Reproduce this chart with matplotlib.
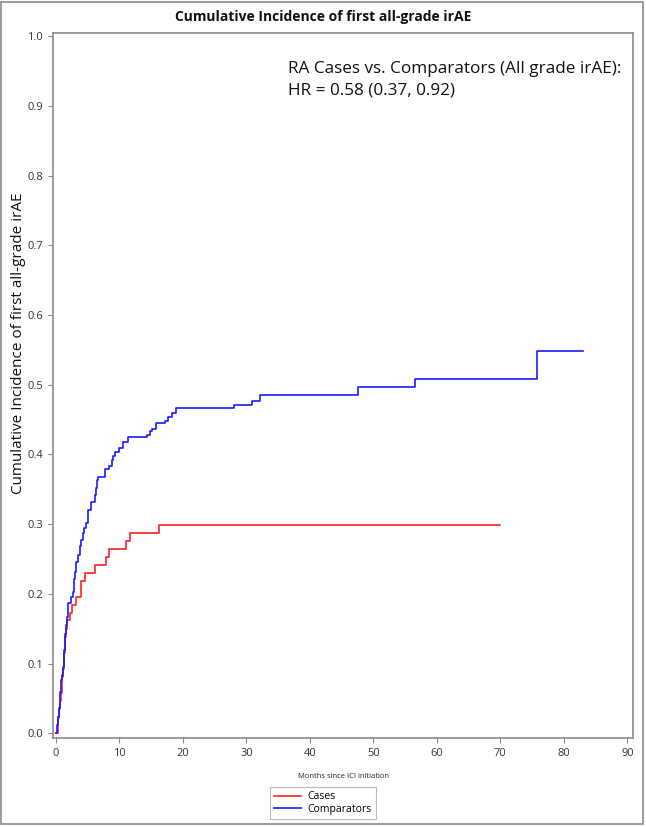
import matplotlib
matplotlib.use("Agg")
import matplotlib.pyplot as plt
from matplotlib.patches import Rectangle

plt.rcParams['font.family'] = ['Open Sans', 'DejaVu Sans']

# Cases (red) - step curve, months since ICI initiation vs cumulative incidence
case_months = [0, 0.3, 0.4, 0.55, 0.7, 0.8, 0.9, 1.0, 1.1, 1.2, 1.3, 1.4, 1.5, 1.6, 1.7,
               2.2, 2.5, 3.1, 4.0, 4.6, 6.1, 7.9, 8.4, 11.0, 11.6, 16.3, 70.0]
case_cif = [0, 0.0115, 0.023, 0.035, 0.046, 0.058, 0.069, 0.081, 0.092, 0.104, 0.115,
            0.127, 0.138, 0.150, 0.162, 0.173, 0.184, 0.196, 0.218, 0.230, 0.241,
            0.253, 0.264, 0.276, 0.287, 0.299, 0.299]

# Comparators (blue)
comp_months = [0, 0.1, 0.2, 0.35, 0.5, 0.6, 0.7, 0.8, 1.0, 1.1, 1.2, 1.3, 1.4, 1.5, 1.6,
               1.75, 1.85, 1.95, 2.3, 2.7, 2.8, 2.9, 3.0, 3.15, 3.5, 3.8, 4.0, 4.2, 4.4,
               4.8, 5.0, 5.1, 5.5, 6.1, 6.3, 6.4, 6.7, 7.7, 8.4, 8.8, 9.0, 9.3, 10.0,
               10.6, 11.4, 14.4, 14.8, 15.2, 15.75, 17.2, 17.7, 18.2, 18.85, 28.1, 30.9,
               32.1, 47.5, 56.6, 75.8, 83.0]
comp_cif = [0, 0.006, 0.012, 0.024, 0.036, 0.048, 0.060, 0.077, 0.084, 0.095, 0.107,
            0.119, 0.131, 0.143, 0.155, 0.167, 0.179, 0.187, 0.195, 0.203, 0.214, 0.222,
            0.232, 0.246, 0.256, 0.268, 0.277, 0.287, 0.294, 0.301, 0.310, 0.320, 0.332,
            0.342, 0.352, 0.363, 0.368, 0.379, 0.384, 0.392, 0.398, 0.404, 0.409, 0.418,
            0.425, 0.428, 0.433, 0.437, 0.445, 0.448, 0.454, 0.460, 0.466, 0.471, 0.477,
            0.485, 0.496, 0.508, 0.549, 0.549]

x_ticks = list(range(0, 91, 10))
y_ticks = [i / 10 for i in range(11)]

fig = plt.figure(figsize=(6.46, 8.27), dpi=100)
ax = fig.add_axes([0.082, 0.1076, 0.898, 0.8524])

ax.step(case_months, case_cif, where='post', color='#ff2020', lw=1.2, label='Cases')
ax.step(comp_months, comp_cif, where='post', color='#1a1aff', lw=1.2, label='Comparators')

ax.set_xlim(-0.47, 90.9)
ax.set_ylim(-0.0067, 1.0043)
ax.set_xticks(x_ticks)
ax.set_yticks(y_ticks)
ax.set_yticklabels([f"{v:.1f}" for v in y_ticks])
ax.tick_params(labelsize=8, colors='#333333', length=3.5, width=0.8)
ax.tick_params(axis='both', color='#888888')
for s in ax.spines.values():
    s.set_color('#8a8a8a')
    s.set_linewidth(1.2)

ax.set_xlabel('Months since ICI initiation', fontsize=5.5, color='#222222')
ax.xaxis.set_label_coords(0.5, -0.05)
ax.set_ylabel('Cumulative Incidence of first all-grade irAE', fontsize=11, color='#111111')
ax.yaxis.set_label_coords(-0.046, 0.56)

ax.text(0.405, 0.96, 'RA Cases vs. Comparators (All grade irAE):\nHR = 0.58 (0.37, 0.92)',
        transform=ax.transAxes, fontsize=12.3, va='top', ha='left', linespacing=1.45,
        color='#111111')

fig.text(0.5, 0.979, 'Cumulative Incidence of first all-grade irAE', ha='center', va='center',
         fontsize=10, fontweight='bold', color='#111111')

leg = fig.legend(loc='center', bbox_to_anchor=(0.5, 0.029), fontsize=7.5, frameon=True,
                 fancybox=False, edgecolor='#aaaaaa', handlelength=2.6, borderpad=0.45,
                 labelspacing=0.1, handletextpad=0.6)
leg.get_frame().set_linewidth(0.8)

fig.add_artist(Rectangle((0.002, 0.004), 0.993, 0.993, transform=fig.transFigure,
                         fill=False, edgecolor='#8a8a8a', lw=1.2))

fig.savefig('out.png', dpi=100)
